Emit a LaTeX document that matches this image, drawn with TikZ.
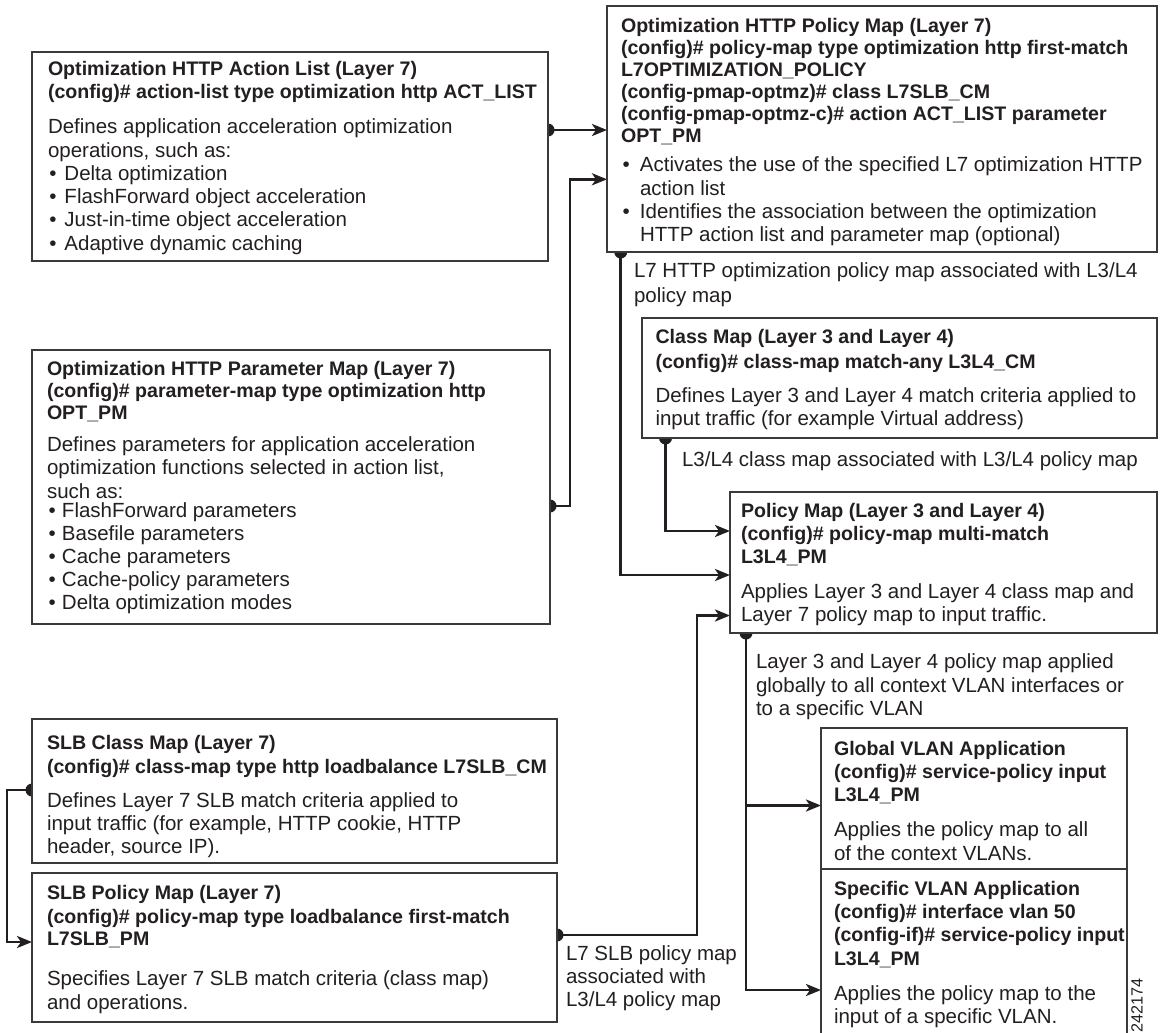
\documentclass[tikz,border=0pt]{standalone}
\usepackage{fontspec}
\setmainfont{Liberation Sans}
\usetikzlibrary{arrows.meta,backgrounds,calc}
\definecolor{ink}{HTML}{231F20}
\definecolor{boxc}{HTML}{3A3A3A}
\pgfdeclarelayer{bottom}
\pgfsetlayers{bottom,background,main}
\newcommand\hb[1]{{\fontsize{19.6}{23.3}\selectfont\bfseries #1}}
\newcommand\bu[1][16.5pt]{\makebox[#1][l]{\hspace{1.5pt}•}}
\newcommand\fl{\rule{0pt}{15pt}}
\tikzset{
  box/.style={draw=boxc, line width=1.4pt, fill=white, inner sep=0pt, outer sep=0pt, anchor=north west},
  txt/.style={align=left, inner sep=0pt, outer sep=0pt, anchor=north west, text=ink,
              font=\fontsize{20.5}{23.3}\selectfont},
  conn/.style={draw=ink, line width=2.8pt, -{Stealth[length=15pt,width=12pt,inset=4pt]}},
  dot/.style={fill=ink}
}
\begin{document}
\begin{tikzpicture}[x=1pt,y=-1pt]
\useasboundingbox (0,0) rectangle (1160,1033);
\begin{pgfonlayer}{bottom}
\fill[white] (0,0) rectangle (1160,1033);
\end{pgfonlayer}

% ---------- boxes ----------
\node[box, minimum width=516pt, minimum height=209pt] (act) at (32,52) {};
\node[box, minimum width=550pt, minimum height=246pt] (optpm) at (607,6) {};
\node[box, minimum width=518pt, minimum height=274pt] (param) at (32,350) {};
\node[box, minimum width=515pt, minimum height=120pt] (cmap) at (642,318) {};
\node[box, minimum width=427pt, minimum height=141pt] (pmap) at (730,492) {};
\node[box, minimum width=306pt, minimum height=141pt] (glob) at (821,728) {};
\node[box, minimum width=306pt, minimum height=200pt] (spec) at (821,869) {};
\node[box, minimum width=525pt, minimum height=144pt] (slbc) at (32,719) {};
\node[box, minimum width=525pt, minimum height=149pt] (slbp) at (32,873) {};

% ---------- box texts ----------
\node[txt] (actT) at (48,60.5) {\fl\hb{Optimization HTTP Action List (Layer 7)}\\
\hb{(config)\# action-list type optimization http ACT\_LIST}\\[11.6pt]
Defines application acceleration optimization\\
operations, such as:\\
\bu Delta optimization\\
\bu FlashForward object acceleration\\
\bu Just-in-time object acceleration\\
\bu Adaptive dynamic caching};

\node[txt] (optT) at (621,17) {\fl\hb{Optimization HTTP Policy Map (Layer 7)}\\[-1.2pt]
\hb{(config)\# policy-map type optimization http first-match}\\[-1.2pt]
\hb{L7OPTIMIZATION\_POLICY}\\[-1.2pt]
\hb{(config-pmap-optmz)\# class L7SLB\_CM}\\[-1.2pt]
\hb{(config-pmap-optmz-c)\# action ACT\_LIST parameter}\\[-1.2pt]
\hb{OPT\_PM}\\[6pt]
\bu[19pt]Activates the use of the specified L7 optimization HTTP\\
\hspace{19pt}action list\\
\bu[19pt]Identifies the association between the optimization\\
\hspace{19pt}HTTP action list and parameter map (optional)};

\node[txt] (paramT) at (47,360) {\fl\hb{Optimization HTTP Parameter Map (Layer 7)}\\[-0.5pt]
\hb{(config)\# parameter-map type optimization http}\\[-1.5pt]
\hb{OPT\_PM}\\[8.4pt]
Defines parameters for application acceleration\\
optimization functions selected in action list,\\[1pt]
such as:\\[-4.3pt]
\bu[15pt]FlashForward parameters\\[-0.5pt]
\bu[15pt]Basefile parameters\\[-0.5pt]
\bu[15pt]Cache parameters\\[-0.5pt]
\bu[15pt]Cache-policy parameters\\[-0.5pt]
\bu[15pt]Delta optimization modes};

\node[txt] (cmapT) at (655.5,328.7) {\fl\hb{Class Map (Layer 3 and Layer 4)}\\[1pt]
\hb{(config)\# class-map match-any L3L4\_CM}\\[10.7pt]
Defines Layer 3 and Layer 4 match criteria applied to\\
input traffic (for example Virtual address)};

\node[txt] (pmapT) at (741,502) {\fl\hb{Policy Map (Layer 3 and Layer 4)}\\
\hb{(config)\# policy-map multi-match}\\
\hb{L3L4\_PM}\\[11.7pt]
Applies Layer 3 and Layer 4 class map and\\
Layer 7 policy map to input traffic.};

\node[txt] (globT) at (834,740.3) {\fl\hb{Global VLAN Application}\\
\hb{(config)\# service-policy input}\\
\hb{L3L4\_PM}\\[11.7pt]
Applies the policy map to all\\
of the context VLANs.};

\node[txt] (specT) at (834,880.3) {\fl\hb{Specific VLAN Application}\\
\hb{(config)\# interface vlan 50}\\
\hb{(config-if)\# service-policy input}\\
\hb{L3L4\_PM}\\[11.7pt]
Applies the policy map to the\\
input of a specific VLAN.};

\node[txt] (slbcT) at (47,734) {\fl\hb{SLB Class Map (Layer 7)}\\[0.7pt]
\hb{(config)\# class-map type http loadbalance L7SLB\_CM}\\[10.7pt]
Defines Layer 7 SLB match criteria applied to\\
input traffic (for example, HTTP cookie, HTTP\\
header, source IP).};

\node[txt] (slbpT) at (47,884.3) {\fl\hb{SLB Policy Map (Layer 7)}\\[0.7pt]
\hb{(config)\# policy-map type loadbalance first-match}\\[-0.7pt]
\hb{L7SLB\_PM}\\[16.7pt]
Specifies Layer 7 SLB match criteria (class map)\\
and operations.};

% ---------- connector labels ----------
\node[txt] (lblOpt) at (634,262) {\fl L7 HTTP optimization policy map associated with L3/L4\\[1.7pt]
policy map};
\node[txt] (lblCm) at (682,451.3) {\fl L3/L4 class map associated with L3/L4 policy map};
\node[txt] (lblPm) at (756,653.7) {\fl Layer 3 and Layer 4 policy map applied\\
globally to all context VLAN interfaces or\\
to a specific VLAN};
\node[txt] (lblSlb) at (566,945.3) {\fl L7 SLB policy map\\
associated with\\
L3/L4 policy map};

\node[text=ink, font=\fontsize{16.2}{18}\selectfont, rotate=90, inner sep=0pt] (fig) at (1137,1005) {242174};

% ---------- connectors ----------
\begin{scope}[on background layer]
\coordinate (a1) at ([yshift=-78pt]act.north east);
\fill[dot] (a1) circle (6.5pt);
\draw[conn] (a1) -- (a1 -| optpm.west);

\coordinate (p1) at ([yshift=-156pt]param.north east);
\coordinate (p2) at ([yshift=-173.3pt]optpm.north west);
\fill[dot] (p1) circle (6.5pt);
\draw[conn] (p1) -- ++(20,0) |- (p2);

\coordinate (o1) at ([xshift=13.7pt]optpm.south west);
\coordinate (o2) at ([yshift=-83pt]pmap.north west);
\fill[dot] (o1) circle (6.5pt);
\draw[conn] (o1) |- (o2);

\coordinate (c1) at ([xshift=23.5pt]cmap.south west);
\coordinate (c2) at ([yshift=-39pt]pmap.north west);
\fill[dot] (c1) circle (6.5pt);
\draw[conn] (c1) |- (c2);

\coordinate (s1) at ([yshift=-62pt]slbp.north east);
\coordinate (s2) at ([yshift=-123.5pt]pmap.north west);
\fill[dot] (s1) circle (6.5pt);
\draw[conn] (s1) -- ++(140,0) |- (s2);

\coordinate (m1) at ([xshift=16pt]pmap.south west);
\coordinate (m2) at ([yshift=-121pt]spec.north west);
\coordinate (m3) at ([yshift=-77.5pt]glob.north west);
\fill[dot] (m1) circle (6.5pt);
\draw[conn] (m1) |- (m2);
\draw[conn] (m3 -| m1) -- (m3);

\coordinate (l1) at ([yshift=-71pt]slbc.north west);
\coordinate (l2) at ([yshift=-69pt]slbp.north west);
\fill[dot] (l1) circle (6.5pt);
\draw[conn] (l1) -- ++(-25,0) |- (l2);
\end{scope}
\end{tikzpicture}
\end{document}
